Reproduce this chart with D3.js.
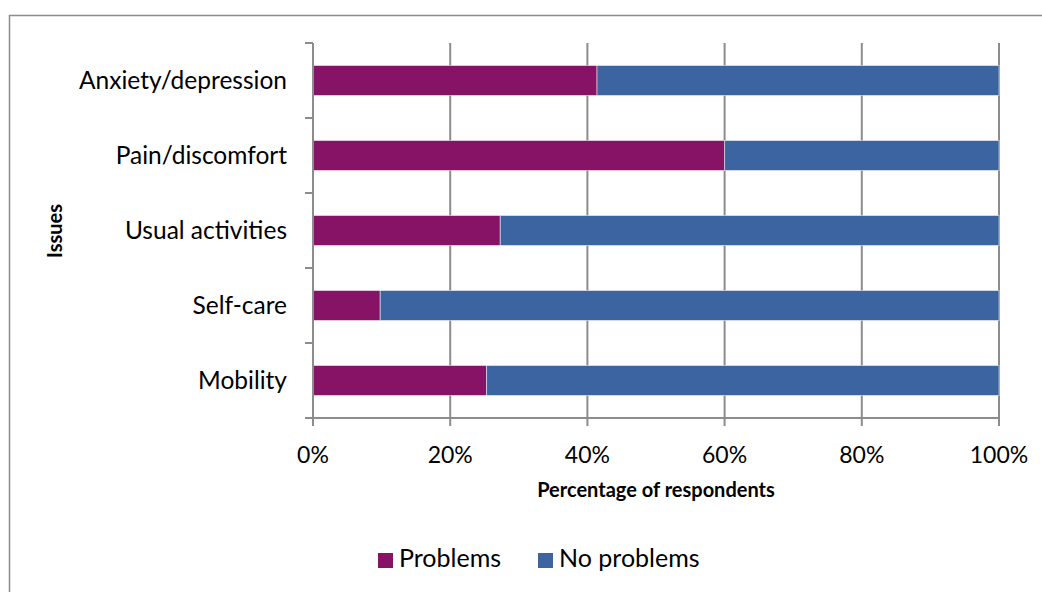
<!DOCTYPE html>
<html><head><meta charset="utf-8">
<script src="https://cdn.jsdelivr.net/npm/d3@7"></script>
<style>body{margin:0;background:#fff}svg{display:block}text{font-family:Lato,"Open Sans",sans-serif}</style>
</head><body>
<svg id="c" width="1042" height="592"></svg>
<script>
const categories = ["Anxiety/depression","Pain/discomfort","Usual activities","Self-care","Mobility"];
const problems = [41.4, 60.0, 27.3, 9.8, 25.3];
const noProblems = [58.6, 40.0, 72.7, 90.2, 74.7];
const seriesNames = ["Problems","No problems"];
const colors = ["#861366","#3C64A0"];
const xTicks = [0,20,40,60,80,100];

const svg = d3.select("#c");
svg.append("rect").attr("x",9.5).attr("y",15.5).attr("width",1100).attr("height",700)
  .attr("fill","none").attr("stroke","#8c8c8c").attr("stroke-width",1.5);

const x = d3.scaleLinear().domain([0,100]).range([313,999]);
const y = d3.scaleBand().domain(categories).range([43,418]).paddingInner(0.6).paddingOuter(0.3);

// gridlines
svg.append("g").selectAll("line").data(xTicks.slice(1)).join("line")
  .attr("x1",d=>x(d)).attr("x2",d=>x(d)).attr("y1",43).attr("y2",418)
  .attr("stroke","#8c8c8c").attr("stroke-width",2);

const data = categories.map((c,i)=>({c, p:problems[i], n:noProblems[i]}));
const stack = d3.stack().keys(["p","n"])(data);
svg.append("g").selectAll("g").data(stack).join("g")
  .attr("fill",(d,i)=>colors[i])
  .selectAll("rect").data(d=>d).join("rect")
  .attr("x",d=>x(d[0])).attr("width",d=>x(d[1])-x(d[0]))
  .attr("y",d=>y(d.data.c)).attr("height",y.bandwidth())
  .attr("stroke","rgba(255,255,255,0.5)").attr("stroke-width",1);

// y axis
const step = 75;
const yAx = svg.append("g");
yAx.append("line").attr("x1",313).attr("x2",313).attr("y1",43).attr("y2",418).attr("stroke","#8c8c8c").attr("stroke-width",2);
yAx.selectAll("line.t").data(d3.range(6)).join("line").attr("class","t")
  .attr("x1",305).attr("x2",313).attr("y1",d=>43+d*step).attr("y2",d=>43+d*step)
  .attr("stroke","#8c8c8c").attr("stroke-width",2);
yAx.selectAll("text").data(categories).join("text")
  .attr("x",287).attr("y",d=>y(d)+y.bandwidth()/2).attr("dy","0.35em")
  .attr("text-anchor","end").attr("font-size",24.5).attr("fill","#000").text(d=>d);

// x axis
const xAx = svg.append("g");
xAx.append("line").attr("x1",313).attr("x2",999).attr("y1",418).attr("y2",418).attr("stroke","#8c8c8c").attr("stroke-width",2);
xAx.selectAll("line.t").data(xTicks).join("line").attr("class","t")
  .attr("x1",d=>x(d)).attr("x2",d=>x(d)).attr("y1",418).attr("y2",426)
  .attr("stroke","#8c8c8c").attr("stroke-width",2);
xAx.selectAll("text").data(xTicks).join("text")
  .attr("x",d=>x(d)).attr("y",463).attr("text-anchor","middle").attr("font-size",23).attr("fill","#000")
  .text(d=>d+"%");

svg.append("text").attr("x",656).attr("y",497).attr("text-anchor","middle")
  .attr("font-size",20).attr("font-weight","bold").text("Percentage of respondents");
svg.append("text").attr("transform","translate(62,231) rotate(-90)").attr("text-anchor","middle")
  .attr("font-size",20).attr("font-weight","bold").text("Issues");

// legend
const leg = svg.append("g");
const lx = [378, 538];
seriesNames.forEach((s,i)=>{
  leg.append("rect").attr("x",lx[i]).attr("y",553).attr("width",15).attr("height",15).attr("fill",colors[i]);
  leg.append("text").attr("x",lx[i]+21).attr("y",567).attr("font-size",25).text(s);
});
</script>
</body></html>
